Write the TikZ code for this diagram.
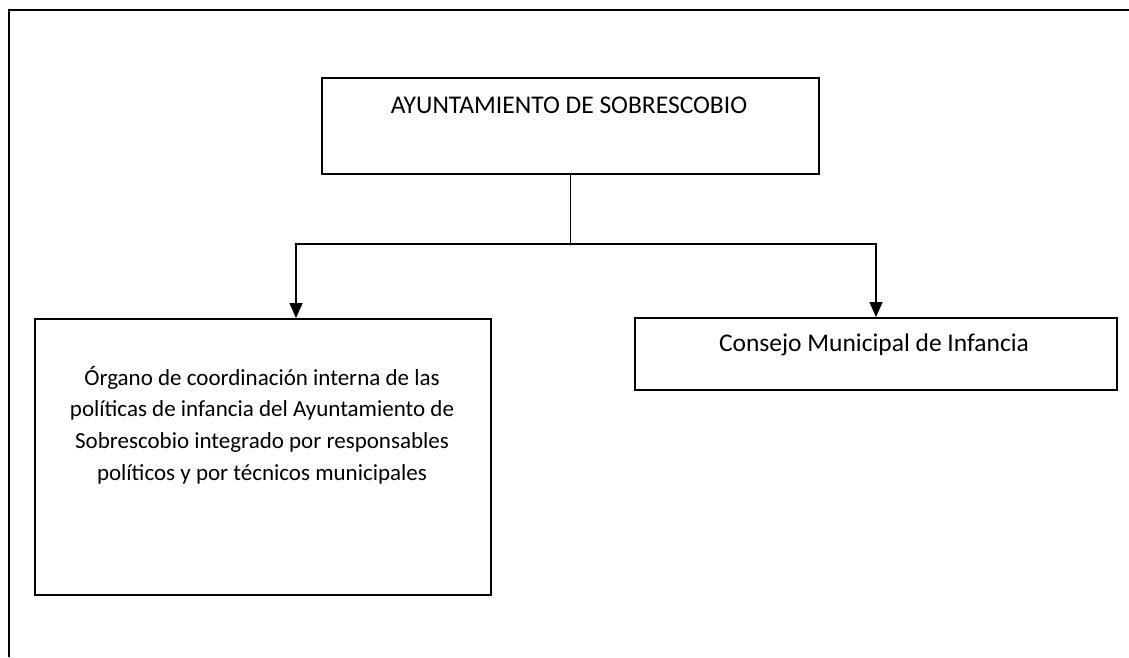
\documentclass[tikz,border=0pt]{standalone}
\usepackage{fontspec}
\setmainfont{Carlito}
\usetikzlibrary{arrows.meta}
\begin{document}
\begin{tikzpicture}[x=1pt,y=-1pt,
  box/.style={draw=black,line width=1.8pt,inner sep=0pt,anchor=north west},
  txt/.style={font=\fontsize{25.5}{31}\selectfont,align=center,inner sep=0pt},
  txtsmall/.style={font=\fontsize{23}{31.8}\selectfont,align=center,inner sep=0pt},
  conn/.style={line width=1.6pt},
  arr/.style={conn,-{Triangle[length=15pt,width=13pt]}}]
\useasboundingbox (0,0) rectangle (1129,657);
\fill[white] (0,0) rectangle (1129,657);
% outer frame (top and left only)
\coordinate (fl) at (9,657);
\coordinate (ftl) at (9,10);
\coordinate (fr) at (1129,10);
\draw[line width=2.2pt] (fl) -- (ftl) -- (fr);
% boxes
\node[box,minimum width=497pt,minimum height=96pt] (top) at (321,77) {};
\node[box,minimum width=456pt,minimum height=276pt] (left) at (34,318) {};
\node[box,minimum width=482pt,minimum height=72pt] (right) at (634,317) {};
% texts
\node[txt] (ttop) at (569,105) {AYUNTAMIENTO DE SOBRESCOBIO};
\node[txtsmall] (tleft) at (262,425) {Órgano de coordinación interna de las\\políticas de infancia del Ayuntamiento de\\Sobrescobio integrado por responsables\\políticos y por técnicos municipales};
\node[txt] (tright) at (874,345) {Consejo Municipal de Infancia};
% connectors
\coordinate (j) at (top.south |- 0,244);
\coordinate (jl) at (296,244);
\coordinate (jr) at (876,244);
\draw[conn] (top.south) -- (j);
\draw[arr] (j) -- (jl) -- (jl |- left.north);
\draw[arr] (j) -- (jr) -- (jr |- right.north);
\end{tikzpicture}
\end{document}
